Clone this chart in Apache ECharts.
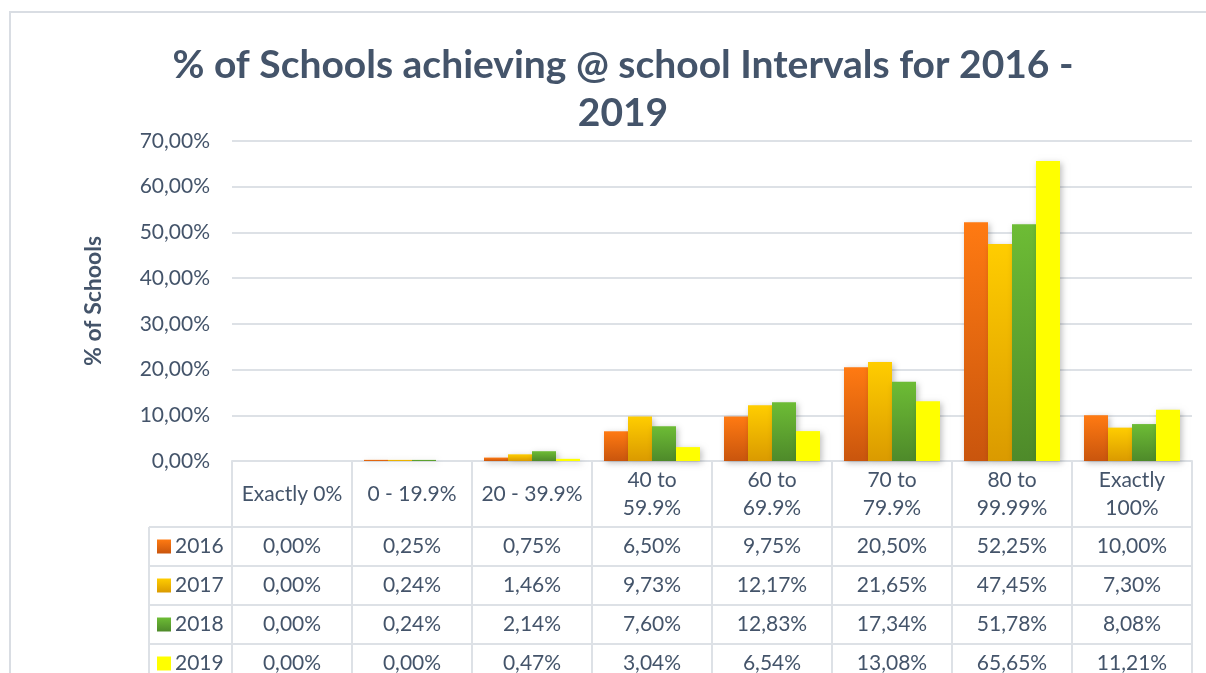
<!DOCTYPE html>
<html>
<head>
<meta charset="utf-8">
<script src="https://cdn.jsdelivr.net/npm/echarts@6/dist/echarts.min.js"></script>
<style>
  html, body { margin: 0; padding: 0; background: #fff; }
  #chart { width: 1206px; height: 673px; }
</style>
</head>
<body>
<div id="chart"></div>
<script>
const categories = ['Exactly 0%', '0 - 19.9%', '20 - 39.9%', '40 to\n59.9%', '60 to\n69.9%', '70 to\n79.9%', '80 to\n99.99%', 'Exactly\n100%'];
const years = ['2016', '2017', '2018', '2019'];
const values2016 = [0.00, 0.25, 0.75, 6.50, 9.75, 20.50, 52.25, 10.00];
const values2017 = [0.00, 0.24, 1.46, 9.73, 12.17, 21.65, 47.45, 7.30];
const values2018 = [0.00, 0.24, 2.14, 7.60, 12.83, 17.34, 51.78, 8.08];
const values2019 = [0.00, 0.00, 0.47, 3.04, 6.54, 13.08, 65.65, 11.21];
const seriesValues = [values2016, values2017, values2018, values2019];

const textColor = '#44546a';
const lineColor = '#dde1e6';
const font = 'Lato, "Open Sans", sans-serif';

function grad(top, bottom) {
  return new echarts.graphic.LinearGradient(0, 0, 0, 1, [
    { offset: 0, color: top }, { offset: 1, color: bottom }
  ]);
}
const fills = [
  grad('#ff7a12', '#c9550d'),
  grad('#ffcd00', '#da9a00'),
  grad('#6dbc35', '#4e8a2a'),
  '#ffff00'
];

function pct(v) { return v.toFixed(2).replace('.', ',') + '%'; }

// layout
const gLeft = 232, gRight = 1192, gTop = 141, gBottom = 461;
const colW = (gRight - gLeft) / categories.length;
const headerBottom = 527, rowH = 39, legendLeft = 149;

let myChart = echarts.init(document.getElementById('chart'));

const graphics = [];
graphics.push({ type: 'rect', shape: { x: 10, y: 12, width: 1210, height: 700 }, style: { fill: 'none', stroke: '#d9dde3', lineWidth: 2 }, silent: true });
// table vertical lines
for (let i = 0; i <= categories.length; i++) {
  const x = gLeft + i * colW;
  graphics.push({ type: 'line', shape: { x1: x, y1: gBottom, x2: x, y2: 680 }, style: { stroke: lineColor, lineWidth: 2 } });
}
graphics.push({ type: 'line', shape: { x1: legendLeft, y1: headerBottom, x2: legendLeft, y2: 680 }, style: { stroke: lineColor, lineWidth: 2 } });
// horizontal lines
for (let r = 0; r <= years.length; r++) {
  const y = headerBottom + r * rowH;
  graphics.push({ type: 'line', shape: { x1: legendLeft, y1: y, x2: gRight, y2: y }, style: { stroke: lineColor, lineWidth: 2 } });
}
// rows
years.forEach(function (yr, r) {
  const cy = headerBottom + r * rowH + rowH / 2;
  graphics.push({ type: 'rect', shape: { x: 157, y: cy - 7, width: 14, height: 14 }, style: { fill: fills[r] } });
  graphics.push({ type: 'text', x: 175, y: cy, style: { text: yr, fill: textColor, font: '21px ' + font, verticalAlign: 'middle', textAlign: 'left' } });
  seriesValues[r].forEach(function (v, c) {
    graphics.push({ type: 'text', x: gLeft + (c + 0.5) * colW, y: cy, style: { text: pct(v), fill: textColor, font: '21px ' + font, verticalAlign: 'middle', textAlign: 'center' } });
  });
});

var option = {
  animation: false,
  backgroundColor: '#fff',
  title: {
    text: '% of Schools achieving @ school Intervals for 2016 -\n2019',
    left: 618, top: 36, textAlign: 'center',
    textStyle: { color: textColor, fontSize: 39, fontWeight: 'bold', fontFamily: font, lineHeight: 48 }
  },
  grid: { left: gLeft, right: 1206 - gRight, top: gTop, bottom: 673 - gBottom, containLabel: false },
  xAxis: {
    type: 'category',
    data: categories,
    axisLine: { show: true, lineStyle: { color: lineColor, width: 2 } },
    axisTick: { show: false },
    axisLabel: { interval: 0, margin: 33, color: textColor, fontSize: 21, fontFamily: font, lineHeight: 28, verticalAlign: 'middle' }
  },
  yAxis: {
    type: 'value', min: 0, max: 70, interval: 10,
    name: '% of Schools', nameLocation: 'middle', nameGap: 127, nameRotate: 90,
    nameTextStyle: { color: textColor, fontSize: 23, fontWeight: 'bold', fontFamily: font },
    axisLine: { show: false }, axisTick: { show: false },
    axisLabel: { formatter: pct, color: textColor, fontSize: 21, fontFamily: font, margin: 22 },
    splitLine: { lineStyle: { color: lineColor, width: 2 } }
  },
  series: years.map(function (yr, i) {
    return {
      name: yr, type: 'bar', data: seriesValues[i],
      barGap: '0%', barCategoryGap: '20%',
      itemStyle: { color: fills[i], shadowBlur: 6, shadowColor: 'rgba(0,0,0,0.25)', shadowOffsetX: 2, shadowOffsetY: 2 }
    };
  }),
  graphic: graphics
};
myChart.setOption(option);
</script>
</body>
</html>
